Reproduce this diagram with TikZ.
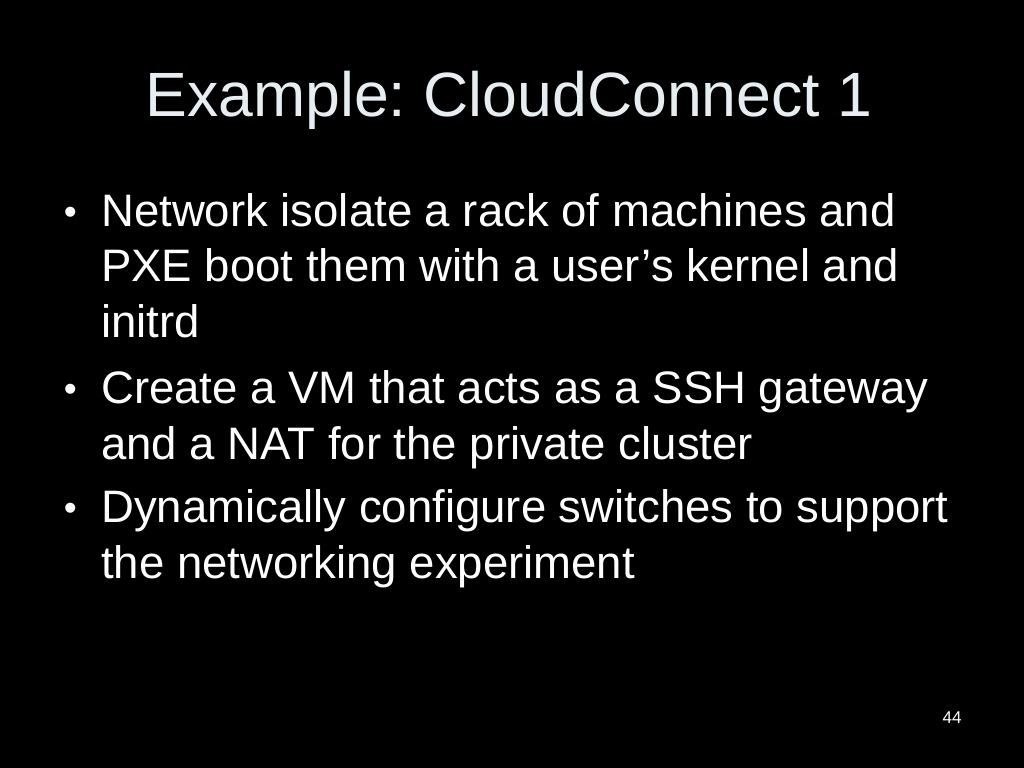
\documentclass[tikz,border=0pt]{standalone}
\usepackage{fontspec}
\setmainfont{Liberation Sans}
\definecolor{titlegray}{RGB}{230,238,242}
\frenchspacing

\begin{document}
\begin{tikzpicture}[x=0.703125pt, y=-0.703125pt,
    headline/.style={anchor=base, inner sep=0pt, text=titlegray, font=\fontsize{44}{52}\selectfont},
    bodyline/.style={anchor=base west, inner sep=0pt, text=white, font=\fontsize{32}{38}\selectfont},
    bulletdot/.style={anchor=base west, inner sep=0pt, text=white, font=\fontsize{26}{30}\selectfont},
    pagenum/.style={anchor=base east, inner sep=0pt, text=white, font=\fontsize{12}{14}\selectfont}]
       \fill[black] (0,0) rectangle (1024,768);
       \useasboundingbox (0,0) rectangle (1024,768);
       \node[headline]  (title) at (509,117) {Example: CloudConnect 1};

       \node[bulletdot] (dotA) at (63.5,225) {•};
       \node[bodyline]  (A1) at (101,227) {Network isolate a rack of machines and};
       \node[bodyline]  (A2) at (101,282) {PXE boot them with a user’s kernel and};
       \node[bodyline]  (A3) at (101,337) {initrd};

       \node[bulletdot] (dotB) at (63.5,401) {•};
       \node[bodyline]  (B1) at (101,403) {Create a VM that acts as a SSH gateway};
       \node[bodyline]  (B2) at (101,459) {and a NAT for the private cluster};

       \node[bulletdot] (dotC) at (63.5,520) {•};
       \node[bodyline]  (C1) at (101,522) {Dynamically configure switches to support};
       \node[bodyline]  (C2) at (101,578) {the networking experiment};

       \node[pagenum]   (num) at (962,723) {44};
      \end{tikzpicture}
\end{document}
